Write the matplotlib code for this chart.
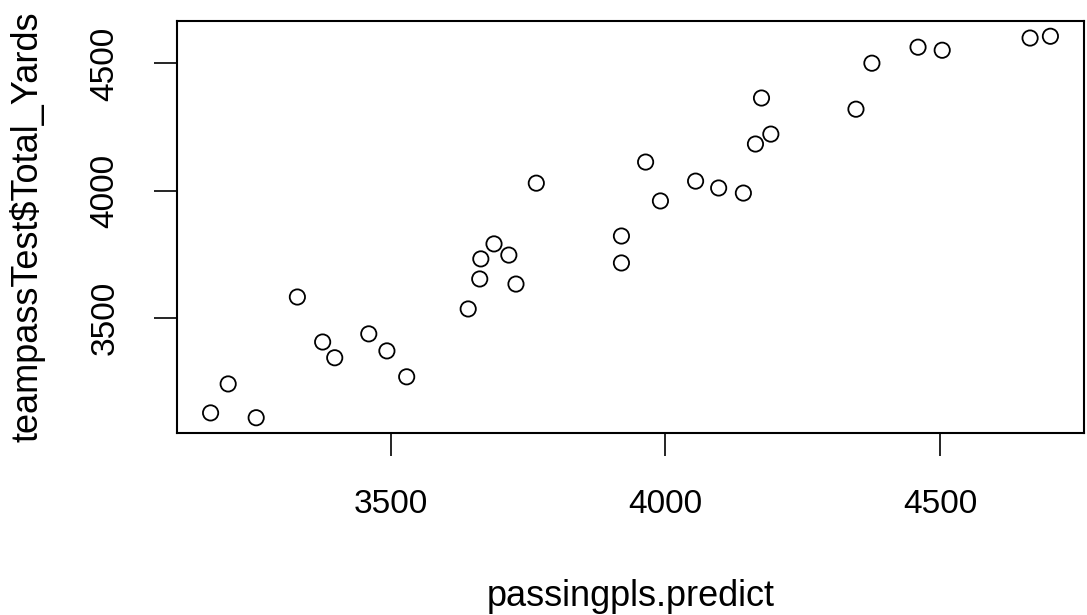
import numpy as np
import matplotlib
matplotlib.use("Agg")
import matplotlib.pyplot as plt

predict = [3172, 3204, 3255, 3330, 3376, 3398, 3460, 3493, 3529,
           3641, 3662, 3728, 3664, 3715, 3688, 3765, 3920, 3920,
           3964, 3991, 4055, 4097, 4142, 4164, 4192, 4175,
           4347, 4376, 4460, 4504, 4664, 4701]
total_yards = [3125, 3239, 3106, 3581, 3404, 3342, 3436, 3369, 3267,
               3534, 3652, 3632, 3731, 3746, 3790, 4029, 3821, 3715,
               4112, 3959, 4037, 4010, 3990, 4183, 4222, 4364,
               4320, 4501, 4564, 4552, 4600, 4607]
xticks = [3500, 4000, 4500]
yticks = [3500, 4000, 4500]

plt.rcParams["font.family"] = ["Liberation Sans", "DejaVu Sans"]

fig = plt.figure(figsize=(10.87, 6.15), dpi=100)
ax = fig.add_axes([177 / 1087, 1 - 433 / 615, (1084 - 177) / 1087, (433 - 21) / 615])

ax.scatter(predict, total_yards, s=11 ** 2, facecolors="none",
           edgecolors="black", linewidths=1.3)
ax.margins(0.04)

ax.set_xticks(xticks)
ax.set_yticks(yticks)
ax.tick_params(axis="both", length=16.5, width=1.2, pad=24, labelsize=24,
               direction="out")
for lab in ax.get_yticklabels():
    lab.set_rotation(90)
    lab.set_va("center")

for sp in ax.spines.values():
    sp.set_linewidth(1.5)

ax.set_xlabel("passingpls.predict", fontsize=26, labelpad=42)
ax.set_ylabel("teampassTest$Total_Yards", fontsize=26, labelpad=32)

fig.savefig("out.png", dpi=100)
